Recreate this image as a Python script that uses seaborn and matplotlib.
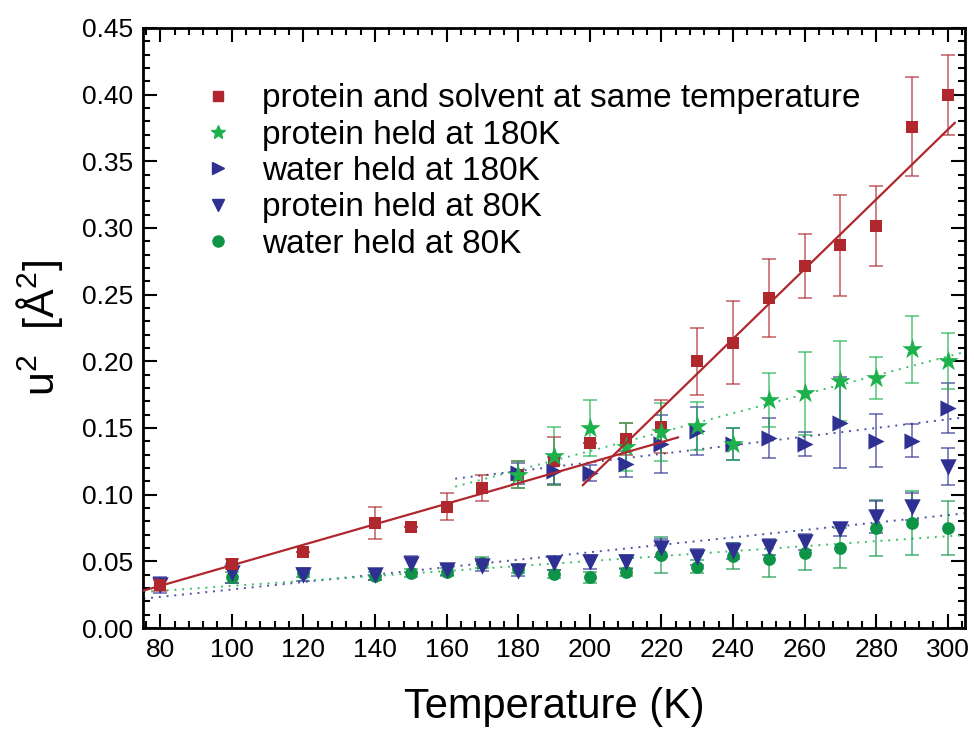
import numpy as np
import pandas as pd
import matplotlib
matplotlib.use("Agg")
import matplotlib.pyplot as plt
from matplotlib.lines import Line2D
from matplotlib.ticker import MultipleLocator
import seaborn as sns

# ---- measured mean-square displacements u^2 (Å^2) vs temperature (K) ----
T_same = [80, 100, 120, 140, 150, 160, 170, 180, 190, 200, 210, 220, 230, 240, 250, 260, 270, 280, 290, 300]
u_same = [0.032, 0.048, 0.057, 0.079, 0.076, 0.091, 0.105, 0.115, 0.125, 0.139, 0.142, 0.151,
          0.200, 0.214, 0.2475, 0.2715, 0.287, 0.3015, 0.376, 0.400]
e_same = [0.004, 0.004, 0.0, 0.012, 0.0, 0.010, 0.010, 0.010, 0.018, 0.0, 0.012, 0.020,
          0.025, 0.031, 0.029, 0.024, 0.038, 0.030, 0.037, 0.030]

T_p180 = [180, 190, 200, 210, 220, 230, 240, 250, 260, 270, 280, 290, 300]
u_p180 = [0.115, 0.129, 0.150, 0.136, 0.147, 0.1515, 0.138, 0.171, 0.176, 0.185, 0.1875, 0.209, 0.200]
e_p180 = [0.010, 0.022, 0.021, 0.018, 0.022, 0.018, 0.012, 0.020, 0.031, 0.030, 0.016, 0.025, 0.021]

T_w180 = [180, 190, 200, 210, 220, 230, 240, 250, 260, 270, 280, 290, 300]
u_w180 = [0.116, 0.118, 0.116, 0.123, 0.138, 0.148, 0.138, 0.1425, 0.138, 0.154, 0.1405, 0.1405, 0.165]
e_w180 = [0.008, 0.010, 0.006, 0.010, 0.022, 0.018, 0.012, 0.015, 0.009, 0.034, 0.020, 0.0125, 0.019]

T_p80 = [80, 100, 120, 140, 150, 160, 170, 180, 190, 200, 210, 220, 230, 240, 250, 260, 270, 280, 290, 300]
u_p80 = [0.032, 0.041, 0.040, 0.040, 0.048, 0.0435, 0.0465, 0.043, 0.0485, 0.0495, 0.0495, 0.060,
         0.053, 0.058, 0.061, 0.0645, 0.074, 0.083, 0.091, 0.121]
e_p80 = [0.006, 0.007, 0.005, 0.004, 0.006, 0.004, 0.004, 0.004, 0.005, 0.005, 0.005, 0.007,
         0.006, 0.006, 0.006, 0.006, 0.005, 0.012, 0.010, 0.014]

T_w80 = [100, 120, 140, 150, 160, 170, 180, 190, 200, 210, 220, 230, 240, 250, 260, 270, 280, 290, 300]
u_w80 = [0.038, 0.041, 0.039, 0.041, 0.042, 0.049, 0.044, 0.0405, 0.038, 0.042, 0.055, 0.046,
         0.054, 0.052, 0.056, 0.060, 0.075, 0.0785, 0.075]
e_w80 = [0.004, 0.003, 0.003, 0.003, 0.003, 0.004, 0.003, 0.003, 0.004, 0.003, 0.0135, 0.005,
         0.010, 0.014, 0.0125, 0.015, 0.021, 0.024, 0.020]

# ---- linear fits (end points) ----
fit_same_lo_T = [75.3, 224.7]
fit_same_lo_u = [0.028, 0.143]
fit_same_hi_T = [198.0, 302.0]
fit_same_hi_u = [0.107, 0.379]
fit_p180_T = [162.4, 304.7]
fit_p180_u = [0.106, 0.207]
fit_w180_T = [162.4, 304.7]
fit_w180_u = [0.112, 0.158]
fit_p80_T = [75.3, 304.7]
fit_p80_u = [0.022, 0.086]
fit_w80_T = [75.3, 304.7]
fit_w80_u = [0.027, 0.0697]

labels = ["protein and solvent at same temperature", "protein held at 180K",
          "water held at 180K", "protein held at 80K", "water held at 80K"]
x_ticks = [80, 100, 120, 140, 160, 180, 200, 220, 240, 260, 280, 300]
y_ticks = [0.00, 0.05, 0.10, 0.15, 0.20, 0.25, 0.30, 0.35, 0.40, 0.45]

RED = "#B0272D"
STAR_GREEN = "#1DB14B"
NAVY = "#2E3192"
DOT_GREEN = "#0E9446"

sns.set_theme(style="ticks")
plt.rcParams["font.family"] = ["Liberation Sans", "DejaVu Sans"]
plt.rcParams["mathtext.fontset"] = "custom"
plt.rcParams["mathtext.rm"] = "Liberation Sans"
plt.rcParams["mathtext.it"] = "Liberation Sans"
for key in ["text.color", "axes.labelcolor", "xtick.color", "ytick.color"]:
    plt.rcParams[key] = "black"

fig = plt.figure(figsize=(9.74, 7.31), dpi=100)
ax = fig.add_axes([143 / 974, 103 / 731, 822 / 974, 600 / 731])

series = [
    # T, u, err, marker, colour, size, zorder
    (T_w80, u_w80, e_w80, "o", DOT_GREEN, 85, 3),
    (T_p80, u_p80, e_p80, "v", NAVY, 140, 4),
    (T_same, u_same, e_same, "s", RED, 80, 5),
    (T_w180, u_w180, e_w180, ">", NAVY, 135, 6),
    (T_p180, u_p180, e_p180, "*", STAR_GREEN, 240, 7),
]

# error bars
for T, u, e, m, c, s, z in series:
    ax.errorbar(T, u, yerr=e, fmt="none", ecolor=c, elinewidth=1.1,
                capsize=5, capthick=1.1, alpha=0.75, zorder=2)

# fit lines
fits = pd.concat([
    pd.DataFrame({"T": fit_same_lo_T, "u": fit_same_lo_u, "fit": "same_lo"}),
    pd.DataFrame({"T": fit_same_hi_T, "u": fit_same_hi_u, "fit": "same_hi"}),
])
sns.lineplot(data=fits, x="T", y="u", units="fit", estimator=None, color=RED,
             lw=1.6, ax=ax, zorder=8)
for Tf, uf, c in [(fit_p180_T, fit_p180_u, "#3CBF6B"), (fit_w180_T, fit_w180_u, "#4E51A6"),
                  (fit_p80_T, fit_p80_u, "#4E51A6"), (fit_w80_T, fit_w80_u, "#3CBF6B")]:
    sns.lineplot(x=Tf, y=uf, color=c, lw=1.4, ax=ax, zorder=1.5,
                 linestyle=(0, (1, 3)))

# points
for T, u, e, m, c, s, z in series:
    sns.scatterplot(x=T, y=u, marker=m, color=c, s=s, linewidth=0, ax=ax, zorder=z)

ax.set_xlim(75.2, 304.8)
ax.set_ylim(0.0, 0.45)
ax.set_xticks(x_ticks)
ax.set_yticks(y_ticks)
ax.set_yticklabels([f"{v:.2f}" for v in y_ticks])
ax.xaxis.set_minor_locator(MultipleLocator(4))
ax.yaxis.set_minor_locator(MultipleLocator(0.01))
ax.tick_params(which="both", direction="in", top=True, right=True, width=1.5, color="black")
ax.tick_params(which="major", length=10, labelsize=19, pad=7)
ax.tick_params(which="minor", length=5)
for sp in ax.spines.values():
    sp.set_linewidth(2)
    sp.set_color("black")

ax.set_xlabel("Temperature (K)", fontsize=30, labelpad=18)
ax.set_ylabel(r"u$^{2}$  [Å$^{2}$]", fontsize=31, labelpad=12)

handles = [
    Line2D([], [], ls="none", marker="s", color=RED, markersize=7),
    Line2D([], [], ls="none", marker="*", color=STAR_GREEN, markersize=10),
    Line2D([], [], ls="none", marker=">", color=NAVY, markersize=9),
    Line2D([], [], ls="none", marker="v", color=NAVY, markersize=9),
    Line2D([], [], ls="none", marker="o", color=DOT_GREEN, markersize=8),
]
ax.legend(handles, labels, loc="upper left", bbox_to_anchor=(0.055, 0.93), frameon=False,
          fontsize=24, handletextpad=0.82, labelspacing=0.16, handlelength=1.0,
          borderaxespad=0)

fig.savefig("out.png", dpi=100)
